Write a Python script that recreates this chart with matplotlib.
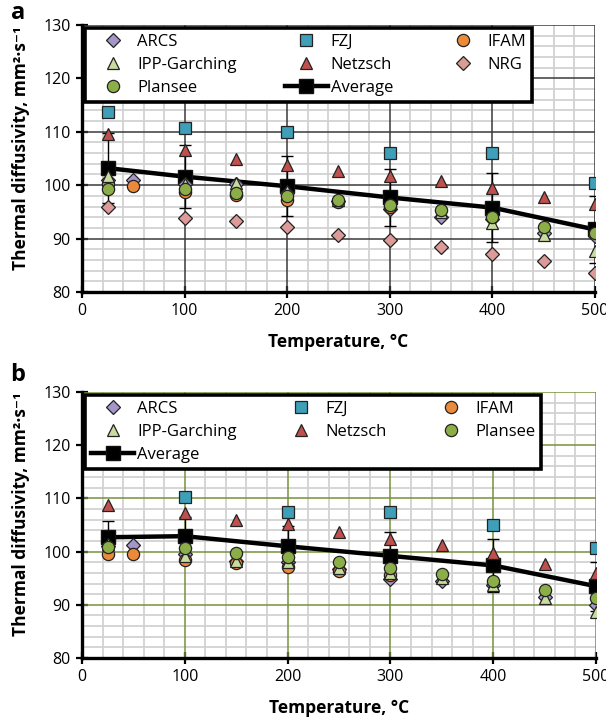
import numpy as np
import matplotlib.pyplot as plt
from matplotlib.ticker import MultipleLocator

plt.rcParams['font.family'] = ['Open Sans', 'DejaVu Sans']

nan = np.nan
temps = [25, 50, 100, 150, 200, 250, 300, 350, 400, 450, 500]
avg_T = [25, 100, 200, 300, 400, 500]

# panel a
arcs_a = [101.0, 101.0, 100.2, 100.3, 98.6, 97.0, 95.5, 94.0, 93.6, 91.0, 90.4]
fzj_a = [113.7, nan, 110.8, nan, 110.0, nan, 106.1, nan, 106.0, nan, 100.5]
ifam_a = [100.3, 99.8, 98.8, 98.2, 97.3, 96.8, 96.0, nan, nan, nan, nan]
ipp_a = [101.8, nan, 100.2, 100.4, 98.9, 97.2, 96.5, 95.0, 92.9, 90.7, 87.7]
netzsch_a = [109.5, nan, 106.6, 104.9, 103.8, 102.7, 101.7, 100.7, 99.4, 97.7, 96.4]
nrg_a = [96.0, nan, 93.9, 93.2, 92.2, 90.7, 89.7, 88.5, 87.2, 85.8, 83.5]
plansee_a = [99.2, nan, 99.3, 98.6, 98.0, 97.2, 96.3, 95.3, 94.1, 92.2, 91.0]
avg_a = [103.2, 101.6, 99.8, 97.7, 95.8, 91.7]
err_a = [6.5, 5.9, 5.6, 5.3, 6.4, 6.3]

# panel b
arcs_b = [101.0, 101.2, 99.5, 98.3, 98.0, 96.8, 94.8, 94.5, 93.8, 91.5, 90.0]
fzj_b = [nan, nan, 110.3, nan, 107.4, nan, 107.4, nan, 105.0, nan, 100.6]
ifam_b = [99.5, 99.5, 98.5, 97.8, 97.1, 96.3, 95.6, nan, nan, nan, nan]
ipp_b = [101.5, nan, 99.2, 98.3, 98.0, 97.0, 96.0, 95.0, 93.8, 91.2, 88.7]
netzsch_b = [108.8, nan, 107.3, 105.9, 105.1, 103.7, 102.4, 101.2, 99.7, 97.6, 95.9]
plansee_b = [100.8, nan, 100.7, 99.7, 99.0, 98.0, 97.0, 95.8, 94.5, 92.8, 91.3]
avg_b = [102.7, 102.9, 101.0, 99.2, 97.4, 93.5]
err_b = [3.1, 3.6, 3.8, 4.5, 4.9, 4.6]

styles = {
    'ARCS': ('D', '#a497c8', 7),
    'FZJ': ('s', '#3f9fb8', 8.2),
    'IFAM': ('o', '#ec8a3c', 8.8),
    'IPP-Garching': ('^', '#c7dc9e', 9.2),
    'Netzsch': ('^', '#c0504d', 9.2),
    'NRG': ('D', '#dc9a98', 7),
    'Plansee': ('o', '#8cae48', 8.8),
}


def panel(ax, series, avg, err, major_col, legend_order, leg_box):
    ax.errorbar(avg_T, avg, yerr=err, fmt='none', ecolor='black',
                elinewidth=1.0, capsize=4.5, capthick=1.0, zorder=2)
    handles = {}
    h_avg, = ax.plot(avg_T, avg, '-s', color='black', lw=3.2, ms=10,
                     mec='#111111', zorder=3)
    handles['Average'] = h_avg
    for name, vals in series:
        m, c, s = styles[name]
        h, = ax.plot(temps, vals, linestyle='none', marker=m, color=c,
                     ms=s, mec='#222222', mew=0.9, zorder=4)
        handles[name] = h
    handles['Plansee'].set_zorder(5)

    ax.set_xlim(0, 500)
    ax.set_ylim(80, 130)
    ax.xaxis.set_major_locator(MultipleLocator(100))
    ax.xaxis.set_minor_locator(MultipleLocator(20))
    ax.yaxis.set_major_locator(MultipleLocator(10))
    ax.yaxis.set_minor_locator(MultipleLocator(2))
    ax.grid(which='minor', color='#d2d2d2', lw=1.3, zorder=0.5)
    # major grid drawn over the minor one
    for x in range(100, 501, 100):
        ax.axvline(x, color=major_col, lw=1.1, zorder=1)
    for y in range(90, 131, 10):
        ax.axhline(y, color=major_col, lw=1.1, zorder=1)
    ax.set_axisbelow(True)
    ax.spines['top'].set_visible(False)
    ax.spines['right'].set_visible(False)
    ax.spines['left'].set_linewidth(2.4)
    ax.spines['bottom'].set_linewidth(2.4)
    ax.tick_params(which='major', direction='inout', length=8, width=1.6,
                   labelsize=11.5, pad=4)
    ax.tick_params(which='minor', length=0)
    ax.set_xlabel('Temperature, °C', fontsize=12.5, fontweight='bold',
                  labelpad=10)
    ax.set_ylabel('Thermal diffusivity, mm²·s⁻¹', fontsize=12.5,
                  fontweight='bold')
    ax.yaxis.set_label_coords(-0.102, 0.54)

    leg = ax.legend([handles[k] for k in legend_order], legend_order,
                    ncol=3, loc='upper left', bbox_to_anchor=leg_box,
                    mode='expand', frameon=True, fancybox=False,
                    edgecolor='black', framealpha=1, borderaxespad=0,
                    fontsize=12, handlelength=2.6, handletextpad=0.15,
                    labelspacing=0.42, borderpad=0.36, numpoints=1)
    leg.get_frame().set_linewidth(2.6)
    leg.set_zorder(10)


fig = plt.figure(figsize=(6.06, 7.22), dpi=100)
ax1 = fig.add_axes([0.1353, 0.5956, 0.8465, 0.3698])
ax2 = fig.add_axes([0.1353, 0.0886, 0.8482, 0.3685])

series_a = [('ARCS', arcs_a), ('FZJ', fzj_a), ('IFAM', ifam_a),
            ('IPP-Garching', ipp_a), ('Netzsch', netzsch_a), ('NRG', nrg_a),
            ('Plansee', plansee_a)]
series_b = [('ARCS', arcs_b), ('FZJ', fzj_b), ('IFAM', ifam_b),
            ('IPP-Garching', ipp_b), ('Netzsch', netzsch_b),
            ('Plansee', plansee_b)]

panel(ax1, series_a, avg_a, err_a, '#3a3a3a',
      ['ARCS', 'IPP-Garching', 'Plansee', 'FZJ', 'Netzsch', 'Average',
       'IFAM', 'NRG'],
      (0.006, 0.708, 0.871, 0.281))
panel(ax2, series_b, avg_b, err_b, '#76923c',
      ['ARCS', 'IPP-Garching', 'Average', 'FZJ', 'Netzsch', 'IFAM',
       'Plansee'],
      (0.006, 0.707, 0.887, 0.282))

fig.text(18 / 606, 1 - 13 / 722, 'a', fontsize=17, fontweight='bold',
         ha='center', va='center')
fig.text(18 / 606, 1 - 375 / 722, 'b', fontsize=17, fontweight='bold',
         ha='center', va='center')

fig.savefig('out.png', dpi=100)
